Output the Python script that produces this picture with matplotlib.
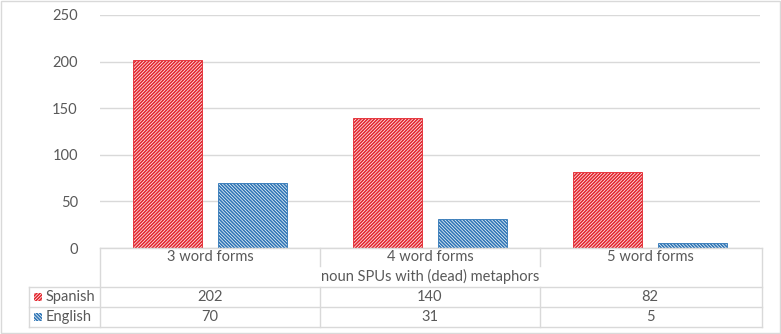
import matplotlib
matplotlib.use("Agg")
import matplotlib.pyplot as plt
from matplotlib.patches import Rectangle
from matplotlib.lines import Line2D
import numpy as np

categories = ["3 word forms", "4 word forms", "5 word forms"]
group_label = "noun SPUs with (dead) metaphors"
series_names = ["Spanish", "English"]
spanish = [202, 140, 82]
english = [70, 31, 5]
yticks = [0, 50, 100, 150, 200, 250]

RED = "#E3262E"
BLUE = "#2E75B6"
TXT = "#595959"
GRID = "#D9D9D9"
HR = "/" * 10
HB = "\\" * 10

plt.rcParams['font.family'] = ['Lato', 'DejaVu Sans']
plt.rcParams['hatch.linewidth'] = 1.2

W, H = 781, 334
fig = plt.figure(figsize=(W / 100, H / 100), dpi=100)

def fx(x):
    return x / W

def fy(y):
    return 1 - y / H

L, R, T, B = 100, 760, 15, 248
ax = fig.add_axes([fx(L), fy(B), fx(R) - fx(L), fy(T) - fy(B)])
ax.set_xlim(-0.5, len(categories) - 0.5)
ax.set_ylim(0, 250)
for s in ax.spines.values():
    s.set_visible(False)
ax.set_xticks([])
ax.set_yticks(yticks)
ax.tick_params(axis='y', length=0, pad=16, labelsize=10.5, labelcolor=TXT)
ax.yaxis.grid(True, color=GRID, linewidth=1)
ax.set_axisbelow(True)
ax.patch.set_alpha(0)

x = np.arange(len(categories))
bw = 0.314
off = 0.193
ax.bar(x - off, spanish, bw, facecolor="white", edgecolor=RED, hatch=HR, linewidth=0.6)
ax.bar(x + off, english, bw, facecolor="white", edgecolor=BLUE, hatch=HB, linewidth=0.6)

def hline(y, x0, x1):
    fig.add_artist(Line2D([fx(x0), fx(x1)], [fy(y), fy(y)], color=GRID, linewidth=1))

def vline(x, y0, y1):
    fig.add_artist(Line2D([fx(x), fx(x)], [fy(y0), fy(y1)], color=GRID, linewidth=1))

hline(248, 100, 762)
hline(287, 29, 762)
hline(307, 29, 762)
hline(327, 29, 762)
vline(29, 287, 327)
vline(100, 248, 327)
vline(762, 248, 327)
for xb in (320, 540):
    vline(xb, 248, 266)
    vline(xb, 287, 327)

FS = 10.5
colw = (R - L) / len(categories)
for i, c in enumerate(categories):
    cx = L + colw * (i + 0.5)
    fig.text(fx(cx), fy(257), c, ha='center', va='center', fontsize=FS, color=TXT)
    fig.text(fx(cx), fy(297), str(spanish[i]), ha='center', va='center', fontsize=FS, color=TXT)
    fig.text(fx(cx), fy(317), str(english[i]), ha='center', va='center', fontsize=FS, color=TXT)
fig.text(fx((L + R) / 2), fy(276), group_label, ha='center', va='center', fontsize=FS, color=TXT)

for name, col, hat, yy in [(series_names[0], RED, HR, 297), (series_names[1], BLUE, HB, 317)]:
    fig.add_artist(Rectangle((fx(34), fy(yy + 4)), fx(8), fy(0) - fy(8), facecolor="white",
                             edgecolor=col, hatch=hat, linewidth=0, transform=fig.transFigure))
    fig.text(fx(46), fy(yy), name, ha='left', va='center', fontsize=FS, color=TXT)

fig.add_artist(Rectangle((fx(1), fy(333)), fx(779), fy(0) - fy(332), facecolor='none',
                         edgecolor=GRID, linewidth=1, transform=fig.transFigure))

fig.savefig("out.png", dpi=100)
